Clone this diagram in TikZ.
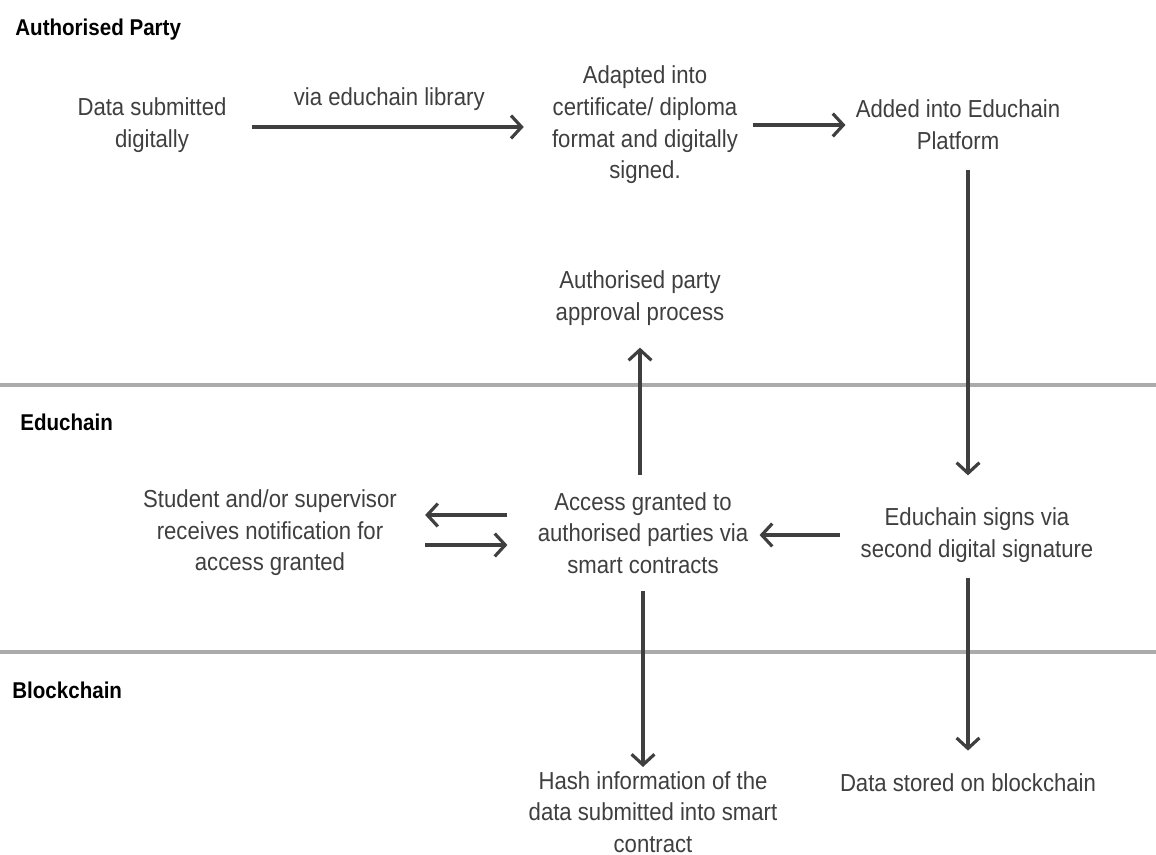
\documentclass[tikz,border=0pt]{standalone}
\usepackage{fontspec}
\setmainfont[FakeStretch=0.9]{Liberation Sans}
\usetikzlibrary{arrows.meta}
\definecolor{ink}{HTML}{3F3F3F}
\definecolor{rule}{HTML}{ABABAB}
\tikzset{
  step text/.style={align=center, inner sep=0pt, text=ink, font=\fontsize{14}{18}\selectfont},
  lane head/.style={anchor=west, inner sep=0pt, text=black, font=\fontsize{13}{16}\selectfont\bfseries},
  flow/.style={-{Straight Barb[length=6pt,width=13pt,line width=1.8pt]}, draw=ink, line width=1.8pt},
  lane rule/.style={draw=rule, line width=2.4pt},
}
\begin{document}
\begin{tikzpicture}
  \useasboundingbox (0,0) rectangle (23.12,-17.1);
  % lanes
  \node[lane head] (party) at (0.3,-0.6) {Authorised Party};
  \node[lane head] (educhain) at (0.4,-8.44) {Educhain};
  \node[lane head] (blockchain) at (0.24,-13.8) {Blockchain};
  \draw[lane rule] (0,-7.7) -- (23.12,-7.7);
  \draw[lane rule] (0,-13.04) -- (23.12,-13.04);
  % steps
  \node[step text] (data) at (3.04,-2.5) {Data submitted\\digitally};
  \node[step text] (adapted) at (12.9,-2.5) {Adapted into\\certificate/ diploma\\format and digitally\\signed.};
  \node[step text] (added) at (19.16,-2.5) {Added into Educhain\\Platform};
  \node[step text] (approval) at (12.8,-5.96) {Authorised party\\approval process};
  \node[step text] (access) at (12.86,-10.66) {Access granted to\\authorised parties via\\smart contracts};
  \node[step text] (signs) at (19.54,-10.7) {Educhain signs via\\second digital signature};
  \node[step text] (notify) at (5.4,-10.66) {Student and/or supervisor\\receives notification for\\access granted};
  \node[step text] (hash) at (13.06,-16.24) {Hash information of the\\data submitted into smart\\contract};
  \node[step text] (stored) at (19.36,-15.66) {Data stored on blockchain};
  % arrows
  \draw[flow, shorten <=0.5cm, shorten >=0.56cm] ([yshift=-0.04cm]data.east) -- ([yshift=-0.04cm]adapted.west)
    node[step text, pos=0.5, above=0.3cm] (via) {via educhain library};
  \draw[flow, shorten <=0.3cm, shorten >=0.2cm] (adapted.east |- added) -- (added.west);
  \draw[flow, shorten <=0.4cm, shorten >=0.64cm] ([xshift=0.2cm]added.south) -- ([xshift=0.2cm]added.south |- signs.north);
  \draw[flow, shorten <=0.4cm, shorten >=0.22cm] (signs.west) -- (signs.west -| access.east);
  \draw[flow, shorten <=0.6cm, shorten >=0.56cm] ([yshift=0.36cm]access.west) -- ([yshift=0.36cm]notify.east);
  \draw[flow, shorten <=0.56cm, shorten >=0.6cm] ([yshift=-0.24cm]notify.east) -- ([yshift=-0.24cm]access.west);
  \draw[flow, shorten <=0.34cm, shorten >=0.44cm] ([xshift=-0.06cm]access.north) -- ([xshift=-0.06cm]access.north |- approval.south);
  \draw[flow, shorten <=0.34cm, shorten >=0.08cm] (access.south) -- (access.south |- hash.north);
  \draw[flow, shorten <=0.3cm, shorten >=0.46cm] ([xshift=-0.18cm]signs.south) -- ([xshift=-0.18cm]signs.south |- stored.north);
\end{tikzpicture}
\end{document}
